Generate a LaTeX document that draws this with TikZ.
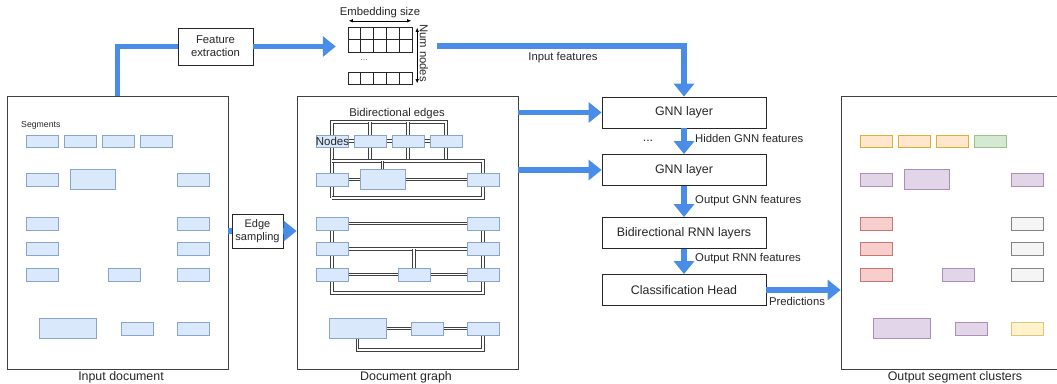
\documentclass[tikz,border=0pt]{standalone}
\usepackage{fontspec}
\setmainfont{Liberation Sans}
\usetikzlibrary{arrows.meta,positioning,backgrounds}

\definecolor{flowblue}{HTML}{4A8DE8}
\definecolor{blueF}{HTML}{DAE8FC}\definecolor{blueD}{HTML}{6C8EBF}
\definecolor{orangeF}{HTML}{FFE6CC}\definecolor{orangeD}{HTML}{D79B00}
\definecolor{greenF}{HTML}{D5E8D4}\definecolor{greenD}{HTML}{82B366}
\definecolor{purpleF}{HTML}{E1D5E7}\definecolor{purpleD}{HTML}{9673A6}
\definecolor{redF}{HTML}{F8CECC}\definecolor{redD}{HTML}{B85450}
\definecolor{greyF}{HTML}{F5F5F5}\definecolor{greyD}{HTML}{666666}
\definecolor{yellowF}{HTML}{FFF2CC}\definecolor{yellowD}{HTML}{D6B656}

\newcommand{\procfont}{\fontsize{12.4}{14}\selectfont}
\newcommand{\labfont}{\fontsize{11.3}{13.3}\selectfont}
\newcommand{\segfont}{\fontsize{8.7}{10}\selectfont}

\tikzset{
  docbox/.style={draw=black!75, line width=0.8pt, minimum width=221pt, minimum height=273pt, inner sep=0},
  proc/.style={draw=black!85, line width=0.8pt, fill=white, minimum width=164pt, minimum height=31pt, font=\procfont, text=black!85},
  labbox/.style={draw=black!85, line width=0.8pt, fill=white, align=center, font=\labfont, text=black!85, inner sep=0},
  lab/.style={font=\labfont, inner sep=0, text=black!85},
  seg/.style={rectangle, line width=0.8pt, inner sep=0},
  blueseg/.style={seg, fill=blueF, draw=blueD!80},
  orangeseg/.style={seg, fill=orangeF, draw=orangeD!80},
  greenseg/.style={seg, fill=greenF, draw=greenD!80},
  purpleseg/.style={seg, fill=purpleF, draw=purpleD!80},
  redseg/.style={seg, fill=redF, draw=redD!80},
  greyseg/.style={seg, fill=greyF, draw=greyD!80},
  yellowseg/.style={seg, fill=yellowF, draw=yellowD!80},
  biedge/.style={draw=black!75, line width=0.85pt, double=white, double distance=1.9pt},
  flowline/.style={draw=flowblue, line width=5.5pt, line join=miter},
  flow/.style={flowline, -{Triangle[length=13pt,width=20pt]}},
  dimline/.style={line width=0.6pt, {Latex[length=4pt,width=3.5pt]}-{Latex[length=4pt,width=3.5pt]}},
  cell/.style={draw=black!85, line width=0.7pt}
}

% segment layout of a page: id / x / y / width / height / cluster
\newcommand{\seglist}{%
  1/42/141/32/12/orangeseg, 2/80/141/32/12/orangeseg, 3/118/141/32/12/orangeseg, 4/156/141/32/12/greenseg,
  5/42/179.5/32/13/purpleseg, 6/92.5/179.5/45/20/purpleseg, 7/193/179.5/32/13/purpleseg,
  8/42/223.5/32/13/redseg, 9/193/223.5/32/13/greyseg,
  10/42/249/32/13/redseg, 11/193/249/32/13/greyseg,
  12/42/274.5/32/13/redseg, 13/124/274.5/32/13/purpleseg, 14/193/274.5/32/13/greyseg,
  15/67.5/328.5/57/20/purpleseg, 16/137/328.5/32/13/purpleseg, 17/193/328.5/32/13/yellowseg}

\begin{document}
\begin{tikzpicture}[x=1pt,y=-1pt]
  \useasboundingbox (0,0) rectangle (1057,383);
  \clip (0,0) rectangle (1057,383);

  \node[docbox] (indoc) at (117.5,232.5) {};
  \node[docbox] (graph) at (407.5,232.5) {};
  \node[docbox] (outdoc) at (951.5,232.5) {};
  \node[lab, font=\procfont] at (121,377) {Input document};
  \node[lab, font=\procfont] at (406,377) {Document graph};
  \node[lab, font=\procfont] at (955,377) {Output segment clusters};

  \foreach \n/\cx/\cy/\w/\h/\cl in \seglist {
    \node[blueseg, minimum width=\w pt, minimum height=\h pt] (i\n) at (\cx,\cy) {};
    \node[blueseg, minimum width=\w pt, minimum height=\h pt] (g\n) at ({\cx+290},\cy) {};
    \node[\cl, minimum width=\w pt, minimum height=\h pt] (o\n) at ({\cx+834},\cy) {};
  }
  \node[lab, font=\segfont, anchor=west] at (21,125) {Segments};
  \node[lab, anchor=west, font=\fontsize{11.5}{13}\selectfont] at (g1.west) {Nodes};
  \node[lab] at (397,114) {Bidirectional edges};

  % graph edges
  \coordinate (tb) at (0,122);
  \coordinate (mb) at (0,161);
  \coordinate (bb) at (0,198);
  \coordinate (lb) at (0,293);
  \coordinate (rb) at (0,350);
  \begin{scope}[on background layer]
    \draw[biedge] (g1 |- bb) -- (g1 |- tb) -| (g4 |- mb);
    \draw[biedge] (g2 |- tb) -- (g2 |- mb);
    \draw[biedge] (g3 |- tb) -- (g3 |- mb);
    \draw[biedge] (g1 |- mb) -| (g7 |- bb) -- (g1 |- bb);
    \draw[biedge] (g6) -- (g6 |- mb);
    \draw[biedge] (g1) -- (g2) -- (g3) -- (g4);
    \draw[biedge] (g5) -- (g6) -- (g7);
    \draw[biedge] (g8) -- (g9);
    \draw[biedge] (g10) -- (g11);
    \draw[biedge] (g12) -- (g13) -- (g14);
    \draw[biedge] (g13) -- (g13 |- g10);
    \draw[biedge] (g8) -- (g8 |- lb) -| (g9);
    \draw[biedge] (g15) -- (g16) -- (g17);
    \draw[biedge] (g15) -- (g15 |- rb) -| (g17);
  \end{scope}

  % features
  \node[labbox, minimum width=75pt, minimum height=37pt] (fex) at (215.5,46.5) {Feature\\extraction};
  \node[inner sep=0, minimum width=64pt, minimum height=57pt] (emb) at (380,55.5) {};
  \foreach \c in {0,...,4} {
    \draw[cell] ({348+12.8*\c},27) rectangle ++(12.8,12.5);
    \draw[cell] ({348+12.8*\c},39.5) rectangle ++(12.8,12.5);
    \draw[cell] ({348+12.8*\c},72) rectangle ++(12.8,12);
  }
  \node[lab, text=black!60, font=\fontsize{9}{10}\selectfont] at (364,60) {...};
  \node[lab] (esize) at (380,13) {Embedding size};
  \draw[dimline] ([xshift=1pt,yshift=6pt]emb.north west) -- ([xshift=-1pt,yshift=6pt]emb.north east);
  \node[lab, rotate=-90] (nnodes) at (424,53) {Num nodes};
  \draw[dimline] ([xshift=5pt,yshift=-1pt]emb.north east) -- ([xshift=5pt,yshift=1pt]emb.south east);
  \coordinate (featout) at (437,46);

  % model
  \node[proc] (gnn1) at (684,112.5) {GNN layer};
  \node[proc] (gnn2) at (684,170) {GNN layer};
  \node[proc] (rnn) at (684,233) {Bidirectional RNN layers};
  \node[proc] (cls) at (684,290) {Classification Head};
  \node[labbox, minimum width=51pt, minimum height=34pt, font=\fontsize{11}{13}\selectfont] (esamp) at (257.5,231) {Edge\\sampling};

  \draw[flowline] (indoc.north) |- (fex.west);
  \draw[flow, shorten >=12pt] (fex.east) -- (fex.east -| emb.west);
  \draw[flow] (featout) -| (gnn1.north);
  \node[lab] at (563,58) {Input features};
  \draw[flowline] (indoc.east |- esamp) -- (esamp.west);
  \draw[flow] (esamp.east) -- (esamp -| graph.west);
  \draw[flow] (graph.east |- gnn1.west) -- (gnn1.west);
  \draw[flow] (graph.east |- gnn2.west) -- (gnn2.west);
  \draw[flow] (gnn1) -- (gnn2);
  \draw[flow] (gnn2) -- (rnn);
  \draw[flow] (rnn) -- (cls);
  \draw[flow] (cls) -- (cls -| outdoc.west);
  \node[lab, font=\procfont] at (648,141) {...};
  \node[lab, anchor=west] at (695,138) {Hidden GNN features};
  \node[lab, anchor=west] at (695,201) {Output GNN features};
  \node[lab, anchor=west] at (695,259) {Output RNN features};
  \node[lab] at (797,301) {Predictions};
\end{tikzpicture}
\end{document}
